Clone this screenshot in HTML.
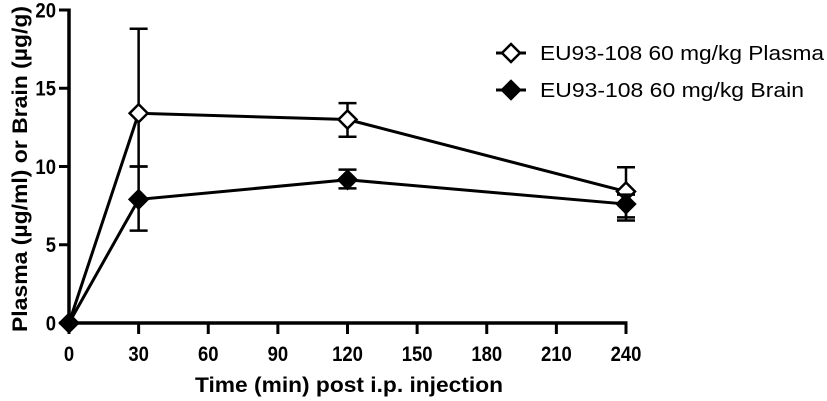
<!DOCTYPE html>
<html><head><meta charset="utf-8"><style>
html,body{margin:0;padding:0;background:#fff;width:827px;height:401px;overflow:hidden}
text{font-family:"Liberation Sans",Arial,sans-serif}
</style></head><body>
<svg id="chart" width="827" height="401" viewBox="0 0 827 401" xmlns="http://www.w3.org/2000/svg"></svg>
<script>
const times = [0, 30, 120, 240];
const plasmaMean = [0, 13.4, 13.0, 8.4];
const plasmaHi = [0, 18.8, 14.05, 9.95];
const plasmaLo = [0, 10.0, 11.9, 6.75];
const brainMean = [0, 7.9, 9.15, 7.6];
const brainHi = [0, 10.0, 9.8, 8.2];
const brainLo = [0, 5.9, 8.6, 6.55];
const xTicks = [0, 30, 60, 90, 120, 150, 180, 210, 240];
const yTicks = [0, 5, 10, 15, 20];

const NS = "http://www.w3.org/2000/svg";
const svg = document.getElementById('chart');
const x0 = 69, x1 = 626, y0 = 323, y1 = 10;
const xs = v => x0 + (v / 240) * (x1 - x0);
const ys = v => y0 - (v / 20) * (y0 - y1);
function el(tag, attrs, parent) {
  const e = document.createElementNS(NS, tag);
  for (const k in attrs) e.setAttribute(k, attrs[k]);
  (parent || svg).appendChild(e);
  return e;
}
const yAxis = el('line', {x1: x0, y1: y1 - 1.5, x2: x0, y2: y0 + 1.5, stroke: '#000', 'stroke-width': 3.5});


const xAxis = el('line', {x1: x0 - 1.5, y1: y0, x2: x1 + 1.5, y2: y0, stroke: '#000', 'stroke-width': 3.5});


yTicks.forEach(v => {
  el('line', {x1: x0 - 10, y1: ys(v), x2: x0, y2: ys(v), stroke: '#000', 'stroke-width': 3});
  const t = el('text', {x: 56, y: ys(v) + 7.5, 'text-anchor': 'end', 'font-size': 21, 'font-weight': 'bold', transform: `translate(56,0) scale(0.88,1) translate(-56,0)`});
  t.textContent = v;
  
  
});
xTicks.forEach(v => {
  el('line', {x1: xs(v), y1: y0, x2: xs(v), y2: y0 + 11, stroke: '#000', 'stroke-width': 3});
  const t = el('text', {x: xs(v), y: y0 + 38, 'text-anchor': 'middle', 'font-size': 21, 'font-weight': 'bold', transform: `translate(${xs(v)},0) scale(0.88,1) translate(${-xs(v)},0)`});
  t.textContent = v;
  
  
});
const xt = el('text', {x: 195, y: 392, 'font-size': 21, 'font-weight': 'bold', textLength: 308, lengthAdjust: 'spacingAndGlyphs'});
xt.textContent = 'Time (min) post i.p. injection';


const yt = el('text', {x: 0, y: 0, 'font-size': 21, 'font-weight': 'bold', textLength: 326, lengthAdjust: 'spacingAndGlyphs', transform: 'translate(27,332) rotate(-90)'});
yt.textContent = 'Plasma  (\u00b5g/ml) or Brain (\u00b5g/g)';



function series(mean, hi, lo, filled, name) {
  const g = el('g', {});
  
  
  el('polyline', {points: times.map((t, i) => xs(t) + ',' + ys(mean[i])).join(' '), fill: 'none', stroke: '#000', 'stroke-width': 3}, g);
  times.forEach((t, i) => {
    if (hi[i] !== lo[i]) {
      el('line', {x1: xs(t), y1: ys(hi[i]), x2: xs(t), y2: ys(lo[i]), stroke: '#000', 'stroke-width': 2.5}, g);
      el('line', {x1: xs(t) - 9, y1: ys(hi[i]), x2: xs(t) + 9, y2: ys(hi[i]), stroke: '#000', 'stroke-width': 2.5}, g);
      el('line', {x1: xs(t) - 9, y1: ys(lo[i]), x2: xs(t) + 9, y2: ys(lo[i]), stroke: '#000', 'stroke-width': 2.5}, g);
    }
  });
  times.forEach((t, i) => {
    const cx = xs(t), cy = ys(mean[i]), r = filled ? 10 : 9;
    const m = el('polygon', {points: `${cx},${cy - r} ${cx + r},${cy} ${cx},${cy + r} ${cx - r},${cy}`, fill: filled ? '#000' : '#fff', stroke: '#000', 'stroke-width': filled ? 1 : 2.5}, g);
    
    
  });
}
series(plasmaMean, plasmaHi, plasmaLo, false, 'plasma-series');
series(brainMean, brainHi, brainLo, true, 'brain-series');

[['EU93-108 60 mg/kg Plasma', false, 53, 284], ['EU93-108 60 mg/kg Brain', true, 90, 264]].forEach(([label, filled, y, w]) => {
  const g = el('g', {});
  
  
  const cx = 511, r = filled ? 10 : 9;
  el('line', {x1: cx - 15, y1: y, x2: cx + 15, y2: y, stroke: '#000', 'stroke-width': 3}, g);
  el('polygon', {points: `${cx},${y - r} ${cx + r},${y} ${cx},${y + r} ${cx - r},${y}`, fill: filled ? '#000' : '#fff', stroke: '#000', 'stroke-width': filled ? 1 : 2.5}, g);
  const t = el('text', {x: 540, y: y + 7, 'font-size': 20, textLength: w, lengthAdjust: 'spacingAndGlyphs'}, g);
  t.textContent = label;
});
</script>
</body></html>
